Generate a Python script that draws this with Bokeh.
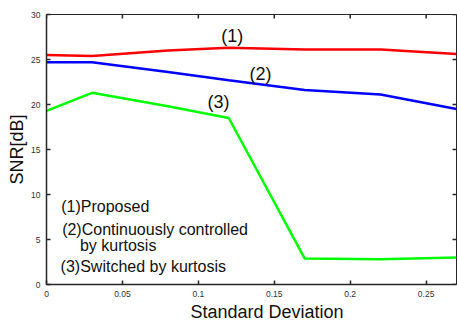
import math
from bokeh.plotting import figure
from bokeh.models import Range1d, FixedTicker, Title
from bokeh.core.properties import value
from bokeh.embed import file_html
from bokeh.resources import INLINE

# Data
std_dev = [0, 0.03, 0.08, 0.12, 0.17, 0.22, 0.27]
snr_proposed = [25.5, 25.4, 26.0, 26.3, 26.1, 26.1, 25.6]
snr_continuous = [24.7, 24.7, 23.6, 22.7, 21.6, 21.1, 19.5]
snr_switched = [19.3, 21.3, 19.8, 18.5, 2.9, 2.8, 3.0]

x_ticks = [0, 0.05, 0.1, 0.15, 0.2, 0.25]
x_tick_labels = ["0", "0.05", "0.1", "0.15", "0.2", "0.25"]
y_ticks = [0, 5, 10, 15, 20, 25, 30]
y_tick_labels = ["0", "5", "10", "15", "20", "25", "30"]
x_min, x_max = 0, 0.27
y_min, y_max = 0, 30

curve_labels = ["(1)", "(2)", "(3)"]
curve_label_x = [0.1224, 0.141, 0.1132]
curve_label_y = [27.6, 23.4, 20.3]

legend_lines = ["(1)Proposed", "(2)Continuously controlled", "by kurtosis",
                "(3)Switched by kurtosis"]
legend_x = [0.0097, 0.0103, 0.022, 0.0093]
legend_y = [8.67, 6.1, 4.3, 2.0]

FONT = "Liberation Sans"
AXIS_COLOR = "#262626"

p = figure(width=457, height=322, output_backend="svg", toolbar_location=None,
           x_range=Range1d(x_min, x_max), y_range=Range1d(y_min, y_max),
           min_border_left=46, min_border_right=1, min_border_top=14,
           min_border_bottom=38)
p.background_fill_color = "white"
p.border_fill_color = "white"
p.outline_line_color = AXIS_COLOR
p.outline_line_width = 1
p.grid.visible = False

p.line(std_dev, snr_proposed, line_color="#ff0000", line_width=2.5)
p.line(std_dev, snr_continuous, line_color="#0000ff", line_width=2.5)
p.line(std_dev, snr_switched, line_color="#00ff00", line_width=2.5)

# inward tick marks on the top and right frame edges
p.scatter(x_ticks, [y_max] * len(x_ticks), marker="dash", size=8,
          angle=math.pi / 2, line_color=AXIS_COLOR, line_width=1.5)
p.scatter([x_max] * len(y_ticks), y_ticks, marker="dash", size=8,
          line_color=AXIS_COLOR, line_width=1.5)

p.text(x=curve_label_x, y=curve_label_y, text=curve_labels,
       text_font=value(FONT), text_font_size="18px", text_color="#111111",
       text_align="center", text_baseline="middle")
p.text(x=legend_x, y=legend_y, text=legend_lines,
       text_font=value(FONT), text_font_size="16px", text_color="#111111",
       text_align="left", text_baseline="middle")

def style_axis(ax, ticks, labels):
    ax.ticker = FixedTicker(ticks=ticks)
    ax.major_label_overrides = {t: l for t, l in zip(ticks, labels)}
    ax.minor_tick_line_color = None
    ax.major_tick_in = 4
    ax.major_tick_out = 0
    ax.major_tick_line_color = AXIS_COLOR
    ax.major_tick_line_width = 1.5
    ax.axis_line_color = AXIS_COLOR
    ax.axis_line_width = 1.5
    ax.major_label_text_font = FONT
    ax.major_label_text_color = "#333333"
    ax.major_label_text_font_size = "8.5px"
    ax.major_label_standoff = 6
    ax.axis_label_text_font = FONT
    ax.axis_label_text_font_size = "18px"
    ax.axis_label_text_font_style = "normal"
    ax.axis_label_text_color = "#111111"
    ax.axis_label_standoff = 1

p.yaxis.axis_label = "SNR[dB]"
style_axis(p.xaxis[0], x_ticks, x_tick_labels)
style_axis(p.yaxis[0], y_ticks, y_tick_labels)

# x-axis title, placed slightly right of centre as in the reference
p.add_layout(Title(text="Standard Deviation", align="left", offset=144,
                   standoff=0, text_font=FONT, text_font_size="18px",
                   text_font_style="normal", text_color="#111111"), "below")

open("out.html", "w").write(file_html(p, INLINE))
